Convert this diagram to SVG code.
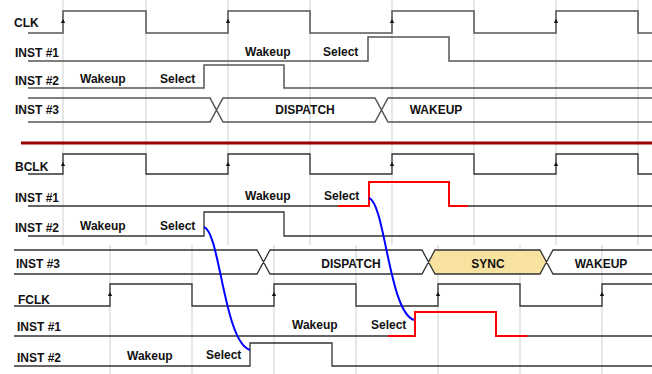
<svg xmlns="http://www.w3.org/2000/svg" width="652" height="374" viewBox="0 0 652 374">
<style>
.grid{stroke:#cfcfcf;stroke-width:1;fill:none}
.sig{stroke:#333;stroke-width:1.3;fill:none}
.sigt{stroke:#555;stroke-width:1.5;fill:none}
.red{stroke:#ff0000;stroke-width:2;fill:none}
.blue{stroke:#0000ff;stroke-width:2;fill:none}
.lbl{font-family:"Liberation Sans",Arial,sans-serif;font-weight:bold;font-size:12px;fill:#111}
.mid{text-anchor:middle}
.arr{fill:#111}
</style>
<defs>
<path id="up" d="M0,0 L-2.2,4 L2.2,4 Z"/>
</defs>
<rect width="652" height="374" fill="#fff"/>
<g id="grid">
<path class="grid" d="M63,0V245M146,0V245M228,0V245M310,0V245M392,0V245M474,0V245M556,0V245M638,0V245"/>
<path class="grid" d="M110,245V374M192,245V374M274,245V374M356,245V374M438,245V374M520,245V374M602,245V374"/>
</g>
<g id="clk">
<text class="lbl" x="14" y="27">CLK</text>
<path class="sigt" d="M28,33H63V11H146V33H228V11H310V33H392V11H474V33H556V11H638V33H652"/>
<use href="#up" class="arr" x="63" y="19"/><use href="#up" class="arr" x="228" y="19"/><use href="#up" class="arr" x="392" y="19"/><use href="#up" class="arr" x="556" y="19"/>
</g>
<g id="inst1-top">
<text class="lbl" x="15" y="57">INST #1</text>
<text class="lbl" x="245" y="56">Wakeup</text>
<text class="lbl" x="323" y="56">Select</text>
<path class="sigt" d="M28,61H368V37H449V61H652"/>
</g>
<g id="inst2-top">
<text class="lbl" x="15" y="85">INST #2</text>
<text class="lbl" x="80" y="83">Wakeup</text>
<text class="lbl" x="160" y="83">Select</text>
<path class="sigt" d="M28,88H204V65H284V88H652"/>
</g>
<g id="inst3-top">
<text class="lbl" x="15" y="114">INST #3</text>
<text class="lbl mid" x="305" y="114">DISPATCH</text>
<text class="lbl mid" x="436" y="114">WAKEUP</text>
<path class="sigt" d="M28,98H210L223,122H375L388,98H652M28,122H210L223,98H375L388,122H652"/>
</g>
<g id="divider">
<path d="M21,143H652" stroke="#990000" stroke-width="3"/>
</g>
<g id="bclk">
<text class="lbl" x="15" y="171">BCLK</text>
<path class="sig" d="M28,174H63V154H146V174H228V154H310V174H392V154H474V174H556V154H638V174H652"/>
<use href="#up" class="arr" x="63" y="162"/><use href="#up" class="arr" x="228" y="162"/><use href="#up" class="arr" x="392" y="162"/><use href="#up" class="arr" x="556" y="162"/>
</g>
<g id="inst1-b">
<text class="lbl" x="15" y="202">INST #1</text>
<text class="lbl" x="245" y="200">Wakeup</text>
<text class="lbl" x="324" y="200">Select</text>
<path class="sig" d="M28,206H338M468,206H652"/>
<path class="red" d="M338,206H369V182H449V206H468"/>
</g>
<g id="inst2-b">
<text class="lbl" x="15" y="232">INST #2</text>
<text class="lbl" x="80" y="230">Wakeup</text>
<text class="lbl" x="160" y="230">Select</text>
<path class="sig" d="M28,236H204V212H284V236H652"/>
</g>
<g id="inst3-b">
<text class="lbl" x="16" y="268">INST #3</text>
<path d="M428.5,262L435,250H540L546.5,262L540,274H435Z" fill="#f8e2a0"/>
<path class="sig" d="M14,250H257L270,274H422L435,250H540L553,274H652M14,274H257L270,250H422L435,274H540L553,250H652" stroke="#666"/>
<text class="lbl mid" x="351" y="268">DISPATCH</text>
<text class="lbl mid" x="488" y="268">SYNC</text>
<text class="lbl mid" x="601" y="268">WAKEUP</text>
</g>
<g id="fclk">
<text class="lbl" x="18" y="304">FCLK</text>
<path class="sig" d="M14,306H110V284H192V306H274V284H356V306H438V284H520V306H602V284H652"/>
<use href="#up" class="arr" x="110" y="292"/><use href="#up" class="arr" x="274" y="292"/><use href="#up" class="arr" x="438" y="292"/><use href="#up" class="arr" x="602" y="292"/>
</g>
<g id="inst1-f">
<text class="lbl" x="17" y="331">INST #1</text>
<text class="lbl" x="292" y="329">Wakeup</text>
<text class="lbl" x="371" y="329">Select</text>
<path class="sig" d="M14,336H388M527,336H652"/>
<path class="red" d="M388,336H415V312H496V336H527"/>
</g>
<g id="inst2-f">
<text class="lbl" x="17" y="362">INST #2</text>
<text class="lbl" x="127" y="360">Wakeup</text>
<text class="lbl" x="206" y="359">Select</text>
<path class="sig" d="M14,366H250V343H332V366H652"/>
</g>
<g id="connectors">
<path class="blue" d="M204,227C220,232 224,342 250,350"/>
<path class="blue" d="M369,198C385,203 389,312 414,320"/>
</g>
</svg>
